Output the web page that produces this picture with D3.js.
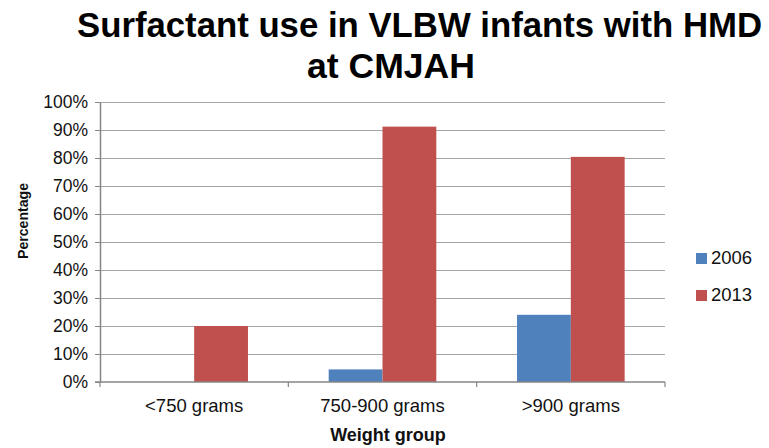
<!DOCTYPE html>
<html>
<head>
<meta charset="utf-8">
<script src="https://cdn.jsdelivr.net/npm/d3@7/dist/d3.min.js"></script>
<style>
  html, body { margin: 0; padding: 0; background: #fff; }
  text { font-family: "Liberation Sans", Arial, Helvetica, sans-serif; }
</style>
</head>
<body>
<svg id="chart" width="769" height="448"></svg>
<script>
const categories = ["<750 grams", "750-900 grams", ">900 grams"];
const seriesNames = ["2006", "2013"];
const values2006 = [0, 4.5, 24];
const values2013 = [20, 91.2, 80.4];
const yTicks = [0, 10, 20, 30, 40, 50, 60, 70, 80, 90, 100];
const colors = ["#4F81BD", "#C0504D"];

const svg = d3.select("#chart");
const plotLeft = 100, plotRight = 665, plotTop = 102, plotBottom = 382;

const x = d3.scaleBand().domain(categories).range([plotLeft, plotRight]).paddingInner(0).paddingOuter(0);
const y = d3.scaleLinear().domain([0, 100]).range([plotBottom, plotTop]);
const barW = x.bandwidth() / 3.5;
const xSub = d3.scaleBand().domain(seriesNames).range([0, barW * 2]);

// gridlines
svg.append("g").selectAll("line").data(yTicks.filter(d => d > 0)).join("line")
  .attr("x1", plotLeft).attr("x2", plotRight)
  .attr("y1", d => Math.round(y(d)) + 0.5).attr("y2", d => Math.round(y(d)) + 0.5)
  .attr("stroke", "#a6a6a6").attr("stroke-width", 1);

// y axis
const yAxis = svg.append("g").attr("transform", `translate(${plotLeft},0)`)
  .call(d3.axisLeft(y).tickValues(yTicks).tickFormat(d => d + "%").tickSize(5).tickSizeOuter(0).tickPadding(7));
yAxis.select(".domain").attr("stroke", "#868686").attr("stroke-width", 1.5);
yAxis.selectAll(".tick line").attr("stroke", "#868686");
yAxis.selectAll(".tick text").attr("font-size", 17.5).attr("fill", "#111")
  .attr("font-family", "'Liberation Sans', Arial, sans-serif");

// bars
const data = categories.map((c, i) => ({ cat: c, vals: [values2006[i], values2013[i]] }));
const groups = svg.append("g").selectAll("g").data(data).join("g")
  .attr("transform", d => `translate(${x(d.cat) + x.bandwidth() / 2 - barW},0)`);
groups.selectAll("rect").data(d => d.vals.map((v, i) => ({ v, s: seriesNames[i], i })))
  .join("rect")
  .attr("x", d => xSub(d.s))
  .attr("width", xSub.bandwidth())
  .attr("y", d => y(d.v))
  .attr("height", d => plotBottom - y(d.v))
  .attr("fill", d => colors[d.i]);

// x axis
const xAxisG = svg.append("g").attr("transform", `translate(0,${plotBottom})`);
xAxisG.append("line").attr("x1", plotLeft - 5).attr("x2", plotRight).attr("y1", 0).attr("y2", 0)
  .attr("stroke", "#868686").attr("stroke-width", 1.5);
const bounds = categories.map(c => x(c)).concat([plotRight]);
xAxisG.selectAll("line.tk").data(bounds).join("line").attr("class", "tk")
  .attr("x1", d => d).attr("x2", d => d).attr("y1", 0).attr("y2", 5)
  .attr("stroke", "#868686").attr("stroke-width", 1.2);
xAxisG.selectAll("text").data(categories).join("text")
  .attr("x", d => x(d) + x.bandwidth() / 2).attr("y", 30)
  .attr("text-anchor", "middle").attr("font-size", 18.5).attr("fill", "#111")
  .text(d => d);

// axis titles
svg.append("text").attr("x", 388).attr("y", 441).attr("text-anchor", "middle")
  .attr("font-size", 18).attr("font-weight", "bold").attr("fill", "#111").text("Weight group");
svg.append("text").attr("transform", "translate(28,221) rotate(-90)").attr("text-anchor", "middle")
  .attr("font-size", 15.5).attr("font-weight", "bold").attr("fill", "#111")
  .attr("textLength", 76).attr("lengthAdjust", "spacingAndGlyphs").text("Percentage");

// title
svg.append("text").attr("x", 77).attr("y", 37).attr("font-size", 34.5).attr("font-weight", "bold")
  .attr("textLength", 685).attr("lengthAdjust", "spacingAndGlyphs").attr("fill", "#000")
  .text("Surfactant use in VLBW infants with HMD");
svg.append("text").attr("x", 307).attr("y", 78).attr("font-size", 34.5).attr("font-weight", "bold")
  .attr("textLength", 168).attr("lengthAdjust", "spacingAndGlyphs").attr("fill", "#000")
  .text("at CMJAH");

// legend
const legend = svg.append("g").selectAll("g").data(seriesNames).join("g")
  .attr("transform", (d, i) => `translate(696,${253 + i * 37})`);
legend.append("rect").attr("width", 11).attr("height", 11).attr("fill", (d, i) => colors[i]);
legend.append("text").attr("x", 15).attr("y", 11).attr("font-size", 18.5).attr("fill", "#111").text(d => d);
</script>
</body>
</html>
